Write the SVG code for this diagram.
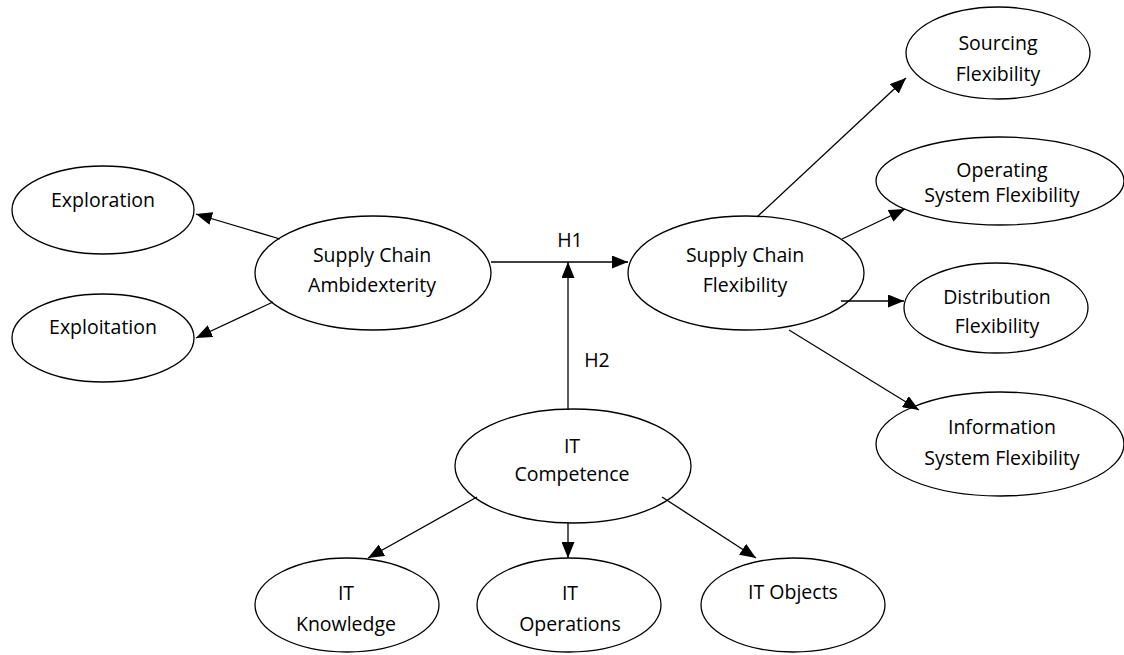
<svg xmlns="http://www.w3.org/2000/svg" width="1124" height="655" viewBox="0 0 1124 655">
<style>
.n{fill:#fff;stroke:#000;stroke-width:1.3}
.t{font-family:"Open Sans","Liberation Sans",sans-serif;font-size:19.5px;fill:#000;text-anchor:middle}
.c line{stroke:#000;stroke-width:1.3;marker-end:url(#ah)}
</style>
<defs>
<marker id="ah" markerUnits="userSpaceOnUse" markerWidth="16" markerHeight="13" refX="16" refY="6.5" orient="auto">
<path d="M0,0 L16,6.5 L0,13 z" fill="#000"/>
</marker>
</defs>
<rect width="1124" height="655" fill="#fff"/>
<g id="exploration"><ellipse class="n" cx="103" cy="210" rx="91" ry="44"/><text class="t" x="103" y="207">Exploration</text></g>
<g id="exploitation"><ellipse class="n" cx="103" cy="338" rx="91" ry="44"/><text class="t" x="103" y="334">Exploitation</text></g>
<g id="sca"><ellipse class="n" cx="373" cy="273" rx="118" ry="57"/><text class="t" x="372" y="262">Supply Chain</text><text class="t" x="372" y="292">Ambidexterity</text></g>
<g id="scf"><ellipse class="n" cx="746" cy="273" rx="118" ry="57"/><text class="t" x="745" y="262">Supply Chain</text><text class="t" x="745" y="292">Flexibility</text></g>
<g id="sourcing"><ellipse class="n" cx="998" cy="53" rx="92" ry="46"/><text class="t" x="998" y="50">Sourcing</text><text class="t" x="998" y="81">Flexibility</text></g>
<g id="operating"><ellipse class="n" cx="1000" cy="181" rx="124" ry="44"/><text class="t" x="1002" y="177">Operating</text><text class="t" x="1002" y="202">System Flexibility</text></g>
<g id="distribution"><ellipse class="n" cx="996" cy="308" rx="92" ry="45"/><text class="t" x="997" y="304">Distribution</text><text class="t" x="997" y="333">Flexibility</text></g>
<g id="information"><ellipse class="n" cx="1000" cy="444" rx="124" ry="52"/><text class="t" x="1002" y="434">Information</text><text class="t" x="1002" y="465">System Flexibility</text></g>
<g id="itc"><ellipse class="n" cx="573" cy="466" rx="118" ry="57"/><text class="t" x="572" y="453">IT</text><text class="t" x="572" y="481">Competence</text></g>
<g id="itk"><ellipse class="n" cx="347" cy="605" rx="92" ry="47"/><text class="t" x="346" y="600">IT</text><text class="t" x="346" y="631">Knowledge</text></g>
<g id="ito"><ellipse class="n" cx="569" cy="605" rx="92" ry="47"/><text class="t" x="570" y="600">IT</text><text class="t" x="570" y="631">Operations</text></g>
<g id="itobj"><ellipse class="n" cx="793" cy="605" rx="92" ry="47"/><text class="t" x="793" y="599">IT Objects</text></g>
<g class="c" id="connectors">
<line x1="280" y1="239" x2="196" y2="214"/>
<line x1="273" y1="302" x2="196" y2="338"/>
<line x1="491" y1="262" x2="628" y2="262"/>
<line x1="568" y1="410" x2="568" y2="262"/>
<line x1="757" y1="217" x2="906" y2="78"/>
<line x1="842" y1="239" x2="905" y2="209"/>
<line x1="841" y1="301" x2="904" y2="301"/>
<line x1="789" y1="330" x2="919" y2="410"/>
<line x1="477" y1="497" x2="368" y2="558"/>
<line x1="568" y1="523" x2="568" y2="558"/>
<line x1="662" y1="497" x2="756" y2="558"/>
</g>
<text class="t" x="570" y="247">H1</text>
<text class="t" x="597" y="367">H2</text>
</svg>
